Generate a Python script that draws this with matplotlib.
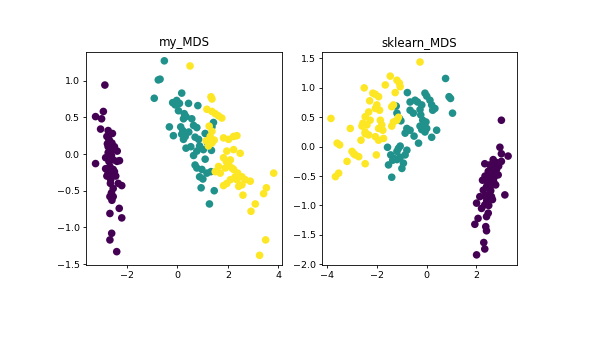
import numpy as np
import matplotlib
matplotlib.use("Agg")
import matplotlib.pyplot as plt

# points (x, y) per class: 0 setosa, 1 versicolor, 2 virginica
my_setosa = [
    [-2.88, 0.94], [-3.25, 0.51], [-2.94, 0.58], [-3.01, 0.48], [-3.05, 0.34], [-2.75, 0.32],
    [-2.80, 0.24], [-2.70, 0.18], [-2.65, 0.12], [-2.75, 0.10], [-2.68, 0.08], [-2.60, 0.15],
    [-2.78, 0.14], [-2.72, 0.20], [-2.62, 0.05], [-2.39, 0.04], [-3.25, -0.13], [-2.85, -0.05],
    [-2.62, -0.02], [-2.55, -0.08], [-2.40, -0.10], [-2.30, -0.09], [-2.68, -0.17], [-2.55, -0.21],
    [-2.75, -0.26], [-2.80, -0.30], [-2.62, -0.28], [-2.50, -0.24], [-2.35, -0.40], [-2.21, -0.43],
    [-2.66, -0.40], [-2.55, -0.47], [-2.62, -0.53], [-2.55, -0.58], [-2.68, -0.58], [-2.60, -0.63],
    [-2.31, -0.74], [-2.21, -0.87], [-2.68, -0.81], [-2.61, -1.08], [-2.68, -1.17], [-2.41, -1.33],
    [-2.72, -0.10], [-2.85, -0.20], [-2.58, 0.28], [-2.70, 0.00], [-2.50, 0.10], [-2.65, -0.35],
    [-2.45, -0.30], [-2.75, 0.02],
]
my_versicolor = [
    [-0.52, 1.27], [-0.76, 1.01], [-0.69, 1.02], [-0.92, 0.76], [0.17, 0.83], [-0.19, 0.70],
    [-0.03, 0.73], [0.08, 0.69], [-0.09, 0.67], [0.44, 0.69], [0.81, 0.66], [0.04, 0.59],
    [0.27, 0.55], [0.34, 0.51], [0.24, 0.48], [0.57, 0.48], [0.64, 0.39], [0.77, 0.36],
    [1.43, 0.43], [1.37, 0.37], [-0.32, 0.37], [-0.16, 0.25], [0.13, 0.37], [0.21, 0.32],
    [0.17, 0.27], [0.31, 0.24], [0.24, 0.20], [0.70, 0.23], [0.84, 0.20], [0.88, 0.11],
    [0.34, 0.08], [0.53, 0.10], [0.77, 0.04], [1.03, 0.06], [0.64, -0.02], [1.10, -0.07],
    [0.70, -0.15], [0.77, -0.19], [0.97, -0.21], [0.88, -0.31], [1.01, -0.34], [1.17, -0.26],
    [1.33, -0.24], [0.94, -0.46], [1.46, -0.50], [1.27, -0.68], [1.20, 0.15], [1.35, 0.05],
    [0.45, 0.30], [1.10, 0.28],
]
my_virginica = [
    [0.50, 1.20], [1.33, 0.78], [1.37, 0.75], [1.17, 0.61], [1.37, 0.58], [1.50, 0.55],
    [1.63, 0.52], [1.76, 0.49], [1.26, 0.38], [1.37, 0.31], [1.30, 0.24], [1.23, 0.17],
    [1.37, 0.15], [1.46, 0.19], [1.14, 0.18], [1.23, 0.11], [1.83, 0.22], [2.03, 0.20],
    [2.23, 0.24], [2.36, 0.25], [1.96, 0.04], [2.23, 0.06], [2.49, 0.01], [1.63, -0.17],
    [1.83, -0.05], [1.94, -0.10], [2.10, -0.08], [2.03, -0.15], [2.16, -0.19], [1.90, -0.19],
    [1.50, -0.24], [1.70, -0.26], [2.23, -0.21], [2.39, -0.26], [2.56, -0.31], [2.36, -0.35],
    [2.56, -0.42], [2.29, -0.31], [2.10, -0.35], [1.96, -0.40], [1.83, -0.43], [2.69, -0.35],
    [2.89, -0.37], [2.43, -0.44], [2.60, -0.56], [3.82, -0.26], [3.53, -0.46], [3.42, -0.54],
    [3.09, -0.68], [2.92, -0.78], [3.50, -1.17], [3.26, -1.38],
]

sk_setosa = [
    [3.01, 0.45], [2.95, -0.01], [3.01, -0.12], [3.28, -0.16], [2.68, -0.22], [2.81, -0.27],
    [3.01, -0.25], [2.34, -0.29], [2.54, -0.31], [2.70, -0.34], [2.81, -0.39], [2.61, -0.41],
    [2.74, -0.45], [2.48, -0.42], [2.88, -0.48], [2.25, -0.57], [2.54, -0.54], [2.61, -0.62],
    [2.41, -0.68], [2.54, -0.71], [2.28, -0.74], [2.78, -0.65], [2.48, -0.82], [2.61, -0.85],
    [2.34, -0.84], [3.15, -0.82], [2.14, -0.85], [2.01, -0.96], [2.34, -0.99], [2.21, -1.05],
    [2.48, -1.13], [2.41, -1.19], [2.07, -1.22], [1.94, -1.32], [2.38, -1.36], [2.41, -1.43],
    [2.30, -1.63], [2.34, -1.74], [2.01, -1.84], [2.65, -0.35], [2.72, -0.52], [2.45, -0.60],
    [2.58, -0.75], [2.65, -0.90], [2.35, -0.50], [2.90, -0.33], [2.50, -1.00], [2.55, -0.45],
    [2.70, -0.60], [2.42, -0.92],
]
sk_versicolor = [
    [0.76, 1.16], [0.90, 0.85], [0.96, 0.82], [1.04, 0.57], [-0.78, 0.92], [-0.07, 0.91],
    [0.00, 0.86], [-0.67, 0.76], [-0.47, 0.79], [-0.37, 0.76], [0.13, 0.79], [0.20, 0.71],
    [-0.20, 0.71], [-0.27, 0.63], [0.33, 0.65], [0.24, 0.62], [-0.67, 0.62], [-0.54, 0.57],
    [-1.23, 0.69], [-1.20, 0.57], [-1.10, 0.48], [-1.04, 0.44], [-0.24, 0.54], [-0.16, 0.45],
    [-0.03, 0.42], [-0.11, 0.37], [-0.27, 0.35], [0.00, 0.31], [-0.20, 0.29], [-0.07, 0.25],
    [0.40, 0.28], [0.20, 0.16], [-0.80, 0.31], [-0.87, 0.23], [-0.67, 0.28], [-0.51, 0.18],
    [-0.33, 0.06], [-1.58, -0.01], [-1.07, 0.01], [-1.14, -0.03], [-1.20, -0.08], [-0.80, -0.06],
    [-0.87, -0.14], [-1.45, -0.14], [-1.31, -0.20], [-1.54, -0.31], [-1.37, -0.23], [-1.20, -0.22],
    [-1.07, -0.18], [-0.94, -0.28], [-1.00, -0.37], [-1.41, -0.52],
]
sk_virginica = [
    [-0.27, 1.44], [-1.47, 1.20], [-1.67, 1.05], [-1.20, 1.13], [-1.10, 1.08], [-1.07, 1.02],
    [-1.27, 0.92], [-2.52, 1.00], [-2.17, 0.91], [-1.94, 0.85], [-2.07, 0.89], [-2.30, 0.78],
    [-2.07, 0.65], [-1.90, 0.62], [-2.01, 0.71], [-2.34, 0.59], [-1.41, 0.68], [-1.34, 0.71],
    [-3.86, 0.48], [-2.48, 0.51], [-2.28, 0.45], [-2.57, 0.40], [-2.61, 0.35], [-2.41, 0.37],
    [-1.87, 0.45], [-1.81, 0.37], [-1.94, 0.31], [-1.77, 0.28], [-1.34, 0.42], [-1.20, 0.45],
    [-1.14, 0.50], [-1.41, 0.35], [-3.08, 0.31], [-2.48, 0.25], [-2.34, 0.20], [-2.48, 0.22],
    [-2.07, 0.17], [-1.74, 0.14], [-1.94, 0.11], [-2.65, 0.11], [-3.61, 0.06], [-3.51, 0.03],
    [-3.01, -0.08], [-2.88, -0.14], [-2.74, -0.17], [-2.94, -0.12], [-2.03, -0.14], [-3.21, -0.25],
    [-2.48, -0.29], [-3.55, -0.45], [-3.68, -0.51],
]

fig = plt.figure(figsize=(6, 3.4), dpi=100)
ax1 = fig.add_axes([0.1433, 0.221, 0.3267, 0.626])
ax2 = fig.add_axes([0.5367, 0.221, 0.3250, 0.626])

panels = [
    (ax1, "my_MDS", [my_setosa, my_versicolor, my_virginica], (-3.63, 4.15), (-1.51, 1.39)),
    (ax2, "sklearn_MDS", [sk_setosa, sk_versicolor, sk_virginica], (-4.22, 3.64), (-2.01, 1.61)),
]

for ax, title, groups, xl, yl in panels:
    pts = np.vstack([np.array(g) for g in groups])
    labels = np.concatenate([np.full(len(g), i) for i, g in enumerate(groups)])
    ax.scatter(pts[:, 0], pts[:, 1], c=labels, cmap="viridis", s=30, linewidths=0)
    ax.set_xlim(*xl)
    ax.set_ylim(*yl)
    ax.set_title(title, fontsize=8.5, pad=4)
    ax.tick_params(labelsize=6.8, length=2.5, width=0.6, pad=2)
    for sp in ax.spines.values():
        sp.set_linewidth(0.6)

ax1.set_xticks([-2, 0, 2, 4])
ax2.set_xticks([-4, -2, 0, 2])
ax2.set_yticks([-2.0, -1.5, -1.0, -0.5, 0.0, 0.5, 1.0, 1.5])

fig.savefig("out.png", dpi=100)
